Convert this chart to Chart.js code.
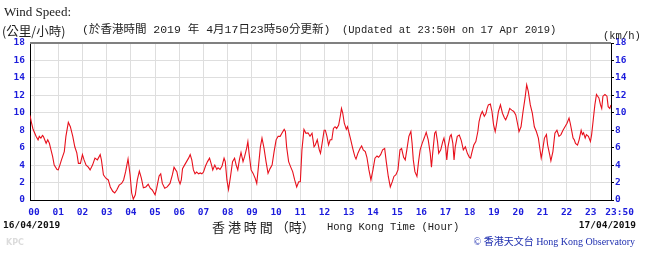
<!DOCTYPE html>
<html>
<head>
<meta charset="utf-8">
<script src="https://cdn.jsdelivr.net/npm/chart.js@4.4.1/dist/chart.umd.min.js"></script>
<style>
  html, body { margin: 0; padding: 0; background: #fff; }
  #wrap { width: 657px; height: 257px; position: relative; }
</style>
</head>
<body>
<div id="wrap"><canvas id="c" width="657" height="257"></canvas></div>
<script>
// Minutes relative to 00:00 on 17/04/2019 (-10 = 23:50 on 16/04/2019)
const times = [-10,-7,-3,0,5,10,13,17,21,23,30,34,38,42,46,50,57,60,64,68,75,79,85,90,96,101,106,110,115,120,124,129,134,139,145,151,157,164,167,172,178,184,189,195,200,205,211,217,222,227,233,238,242,246,251,256,261,266,271,277,283,288,293,300,304,310,314,318,324,330,337,343,347,351,354,358,362,365,368,373,378,383,387,391,395,399,403,408,412,416,420,425,430,435,440,443,448,453,456,461,466,471,474,478,482,487,492,497,501,505,509,513,518,522,527,530,533,538,543,548,552,557,561,565,570,575,580,585,590,595,600,605,610,615,620,623,626,631,636,641,646,651,656,660,664,669,674,679,684,689,694,697,702,707,710,714,719,722,726,730,734,738,742,746,750,755,759,762,765,769,774,777,780,785,790,795,798,803,808,812,816,821,825,830,835,840,845,850,854,859,864,869,873,878,883,888,892,897,902,907,911,916,920,924,929,934,937,940,944,949,953,957,962,967,972,977,982,985,988,993,996,1000,1003,1008,1013,1016,1020,1023,1026,1031,1034,1038,1041,1044,1049,1054,1059,1064,1069,1074,1079,1082,1085,1090,1095,1100,1103,1107,1111,1116,1120,1123,1126,1131,1135,1139,1143,1146,1151,1156,1161,1166,1169,1174,1179,1184,1189,1194,1199,1202,1207,1212,1217,1221,1225,1230,1235,1240,1245,1250,1253,1257,1260,1265,1270,1273,1278,1281,1286,1291,1296,1301,1306,1311,1316,1321,1326,1329,1333,1336,1339,1342,1347,1351,1356,1359,1362,1366,1369,1374,1379,1382,1386,1390,1394,1397,1400,1404,1407,1410,1415,1420,1423,1427,1430];
const windSpeed = [9.7,9.0,8.2,7.85,7.3,6.9,7.3,7.1,7.4,7.3,6.5,6.9,6.5,5.75,5.0,4.0,3.5,3.45,4.0,4.6,5.55,7.3,8.9,8.4,7.3,6.1,5.4,4.2,4.2,5.2,4.6,4.0,3.8,3.45,4.0,4.8,4.6,5.2,4.6,2.9,2.5,2.3,1.5,1.0,0.8,1.15,1.7,1.9,2.3,3.25,4.7,2.9,0.8,0.1,0.6,2.3,3.3,2.5,1.4,1.5,1.8,1.35,1.15,0.6,1.35,2.75,3.0,1.9,1.35,1.5,1.9,2.9,3.75,3.45,3.25,2.3,1.85,2.3,3.6,4.0,4.4,4.8,5.2,4.6,3.45,3.0,3.2,3.0,3.1,3.0,3.2,3.9,4.4,4.8,4.0,3.45,4.0,3.5,3.7,3.5,3.9,4.8,4.4,2.3,1.2,2.7,4.4,4.8,4.0,3.45,4.6,5.45,4.4,5.0,5.95,6.7,5.35,3.45,3.05,2.5,1.9,4.2,6.1,7.1,5.95,4.4,3.05,3.6,4.0,5.55,6.9,7.3,7.3,7.7,8.1,7.85,6.1,4.4,3.8,3.25,2.3,1.5,2.1,2.1,5.75,8.1,7.65,7.7,7.3,7.65,6.1,6.3,6.9,5.75,5.35,6.5,8.0,8.0,7.3,6.3,6.9,6.9,8.2,8.4,8.2,8.6,9.6,10.5,10.0,8.8,8.1,8.4,7.85,6.9,5.9,5.0,4.7,5.4,5.9,6.2,5.75,5.55,4.9,3.45,2.3,3.45,4.8,5.05,4.9,5.2,5.75,5.9,4.4,2.7,1.5,2.1,2.7,2.9,3.45,5.75,5.9,4.9,4.6,5.75,7.3,7.85,6.5,4.6,3.25,2.7,4.4,5.75,6.5,7.1,7.75,6.9,5.35,3.75,5.35,7.65,7.85,6.7,5.35,5.75,6.7,7.1,6.1,4.6,6.1,7.3,7.5,6.5,4.6,6.1,7.3,7.45,6.8,5.75,6.1,5.35,4.9,4.8,5.4,6.3,6.7,7.85,9.0,9.75,10.15,9.6,9.9,10.5,10.9,11.0,10.15,8.6,7.85,8.6,10.15,10.9,9.95,9.4,9.2,9.75,10.5,10.3,10.15,9.75,8.6,7.85,8.4,10.15,11.7,13.2,12.45,10.9,9.95,8.4,7.85,7.1,6.1,4.8,5.55,7.1,7.5,6.3,5.2,4.5,5.55,7.65,8.0,7.3,7.5,8.0,8.4,8.8,9.4,8.8,7.85,7.1,6.9,6.5,6.3,6.9,8.0,7.5,7.7,7.1,7.5,7.3,6.7,7.5,9.2,10.9,12.1,11.9,11.7,10.9,10.5,11.9,12.1,11.9,10.7,10.5,10.9];

const xTickMinutes = [0,60,120,180,240,300,360,420,480,540,600,660,720,780,840,900,960,1020,1080,1140,1200,1260,1320,1380,1430];
const xTickLabels = ['00','01','02','03','04','05','06','07','08','09','10','11','12','13','14','15','16','17','18','19','20','21','22','23','\u00a0\u00a0\u00a023:50'];
const yTicks = [0,2,4,6,8,10,12,14,16,18];

const titleEn = 'Wind Speed:';
const unitZh = '(公里/小時)';
const updZh = '(於香港時間 2019 年 4月17日23時50分更新)';
const updEn = '(Updated at 23:50H on 17 Apr 2019)';
const unitEn = '(km/h)';
const startDate = '16/04/2019';
const endDate = '17/04/2019';
const axisZh = '香 港 時 間 （時）';
const axisEn = 'Hong Kong Time (Hour)';
const credit = '© 香港天文台 Hong Kong Observatory';
const tag = 'KPC';

const tickBlue = '#1c1cdc';
const tickFont = { family: '"DejaVu Sans Mono", monospace', size: 9.5, weight: 'bold' };

const textPlugin = {
  id: 'texts',
  afterDraw(chart) {
    const ctx = chart.ctx;
    const ca = chart.chartArea;
    ctx.save();
    // top border
    ctx.strokeStyle = '#808080';
    ctx.lineWidth = 2;
    ctx.beginPath();
    ctx.moveTo(ca.left, ca.top);
    ctx.lineTo(ca.right, ca.top);
    ctx.stroke();

    ctx.fillStyle = '#222';
    ctx.textBaseline = 'alphabetic';
    ctx.textAlign = 'left';
    ctx.font = '13px "Liberation Serif", serif';
    ctx.fillText(titleEn, 4, 16);

    ctx.textBaseline = 'middle';
    ctx.font = '12.5px "Noto Sans CJK TC", sans-serif';
    ctx.fillText(unitZh, 2, 31);

    ctx.font = '11.5px "Liberation Mono", "Noto Sans CJK TC", monospace';
    ctx.fillText(updZh, 82, 30);
    ctx.font = '10.5px "Liberation Mono", monospace';
    ctx.fillText(updEn, 342, 30);
    ctx.fillText(unitEn, 603, 36);

    ctx.font = 'bold 9.5px "DejaVu Sans Mono", monospace';
    ctx.fillStyle = '#111';
    ctx.fillText(startDate, 3, 226);
    ctx.textAlign = 'right';
    ctx.fillText(endDate, 636, 226);

    ctx.textAlign = 'left';
    ctx.fillStyle = '#222';
    ctx.font = '13px "Noto Sans CJK TC", sans-serif';
    ctx.fillText(axisZh, 212, 227);
    ctx.font = '10.5px "Liberation Mono", monospace';
    ctx.fillText(axisEn, 327, 227);

    ctx.textAlign = 'right';
    ctx.fillStyle = '#1f2fb0';
    ctx.font = '10px "Liberation Serif", "Noto Sans CJK TC", serif';
    ctx.fillText(credit, 635, 242);

    ctx.textAlign = 'left';
    ctx.fillStyle = '#dcdcdc';
    ctx.font = 'bold 8px "DejaVu Sans", sans-serif';
    ctx.fillText(tag, 6, 243);
    ctx.restore();
  }
};

new Chart(document.getElementById('c'), {
  type: 'line',
  data: {
    datasets: [{
      data: times.map((t, i) => ({ x: t, y: windSpeed[i] })),
      borderColor: '#e8101c',
      borderWidth: 1.1,
      pointRadius: 0,
      tension: 0,
      fill: false
    }]
  },
  options: {
    responsive: false,
    animation: false,
    layout: { padding: { top: 43, left: 0, right: 0, bottom: 0 } },
    plugins: { legend: { display: false }, tooltip: { enabled: false } },
    scales: {
      x: {
        type: 'linear',
        min: -10,
        max: 1430,
        afterBuildTicks: (s) => { s.ticks = xTickMinutes.map(v => ({ value: v })); },
        afterFit: (s) => { s.height = 57; },
        grid: { color: '#dedede', drawTicks: false },
        border: { color: '#000', width: 1 },
        ticks: {
          autoSkip: false,
          maxRotation: 0,
          padding: 7,
          color: tickBlue,
          font: tickFont,
          callback: (v, i) => xTickLabels[i]
        }
      },
      y: {
        position: 'left',
        min: 0,
        max: 18,
        afterBuildTicks: (s) => { s.ticks = yTicks.map(v => ({ value: v })); },
        afterFit: (s) => { s.width = 30; },
        grid: { color: '#dedede', drawTicks: false },
        border: { color: '#000', width: 1 },
        ticks: { padding: 5, color: tickBlue, font: tickFont }
      },
      y2: {
        position: 'right',
        min: 0,
        max: 18,
        afterBuildTicks: (s) => { s.ticks = yTicks.map(v => ({ value: v })); },
        afterFit: (s) => { s.width = 46; },
        grid: { drawOnChartArea: false, drawTicks: true, tickLength: 3, tickColor: '#000' },
        border: { color: '#000', width: 1 },
        ticks: { padding: 1, color: tickBlue, font: tickFont }
      }
    }
  },
  plugins: [textPlugin]
});
</script>
</body>
</html>
